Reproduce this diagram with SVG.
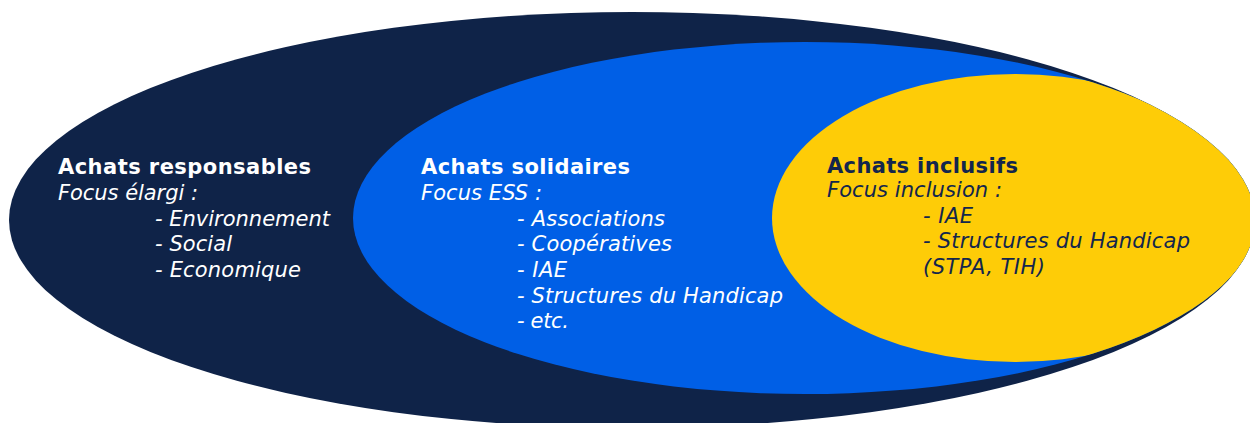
<svg xmlns="http://www.w3.org/2000/svg" width="1250" height="423" viewBox="0 0 1250 423">
<style>
text{font-family:"DejaVu Sans","Liberation Sans",sans-serif;font-size:21px}
.t{font-weight:bold}
.i{font-style:italic}
.w{fill:#ffffff}
.n{fill:#13264d}
</style>
<defs>
<clipPath id="cDark"><ellipse cx="632" cy="220" rx="623" ry="208"/></clipPath>
<clipPath id="cBlue"><ellipse cx="805" cy="218" rx="452" ry="176"/></clipPath>
</defs>
<rect width="1250" height="423" fill="#ffffff"/>
<g id="node-responsables">
<ellipse cx="632" cy="220" rx="623" ry="208" fill="#0f2348"/>
<text class="t w" x="58" y="174" textLength="253">Achats responsables</text>
<text class="i w" x="58" y="200" textLength="140">Focus élargi :</text>
<text class="i w" x="155" y="226" textLength="175">- Environnement</text>
<text class="i w" x="155" y="251" textLength="77">- Social</text>
<text class="i w" x="155" y="277" textLength="146">- Economique</text>
</g>
<g id="node-solidaires">
<ellipse cx="805" cy="218" rx="452" ry="176" fill="#005fe6" clip-path="url(#cDark)"/>
<text class="t w" x="421" y="174" textLength="209">Achats solidaires</text>
<text class="i w" x="421" y="200" textLength="121">Focus ESS :</text>
<text class="i w" x="517" y="226" textLength="148">- Associations</text>
<text class="i w" x="517" y="251" textLength="155">- Coopératives</text>
<text class="i w" x="517" y="277" textLength="50">- IAE</text>
<text class="i w" x="517" y="303" textLength="266">- Structures du Handicap</text>
<text class="i w" x="517" y="328" textLength="52">- etc.</text>
</g>
<g id="node-inclusifs">
<g clip-path="url(#cDark)"><ellipse cx="1015" cy="218" rx="243" ry="144" fill="#fecc07" clip-path="url(#cBlue)"/></g>
<text class="t n" x="827" y="173" textLength="191">Achats inclusifs</text>
<text class="i n" x="827" y="197" textLength="175">Focus inclusion :</text>
<text class="i n" x="923" y="223" textLength="50">- IAE</text>
<text class="i n" x="923" y="248" textLength="267">- Structures du Handicap</text>
<text class="i n" x="923" y="274" textLength="122">(STPA, TIH)</text>
</g>
</svg>
